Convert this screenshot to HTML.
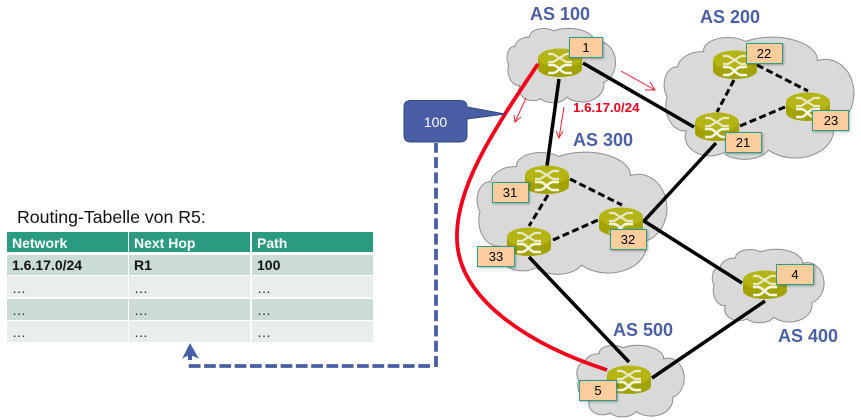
<!DOCTYPE html>
<html><head><meta charset="utf-8"><style>
html,body{margin:0;padding:0;background:#fff;width:861px;height:420px;overflow:hidden}
svg{display:block}
text{font-family:"Liberation Sans",sans-serif}
.as{font-size:18px;font-weight:bold;fill:#4a5fa5}
.lb{font-size:13px;fill:#000;text-anchor:middle}
.h{font-size:14px;font-weight:bold;fill:#fff}
.b{font-size:14px;font-weight:bold;fill:#111}
.d{font-size:14px;fill:#222}
.k{stroke:#000;stroke-width:3.500;fill:none}
.ds{stroke:#000;stroke-width:3;fill:none;stroke-dasharray:7 3.500}
.ra{stroke:#f0203a;stroke-width:1;fill:none}
</style></head><body>
<svg width="861" height="420" viewBox="0 0 861 420" xmlns="http://www.w3.org/2000/svg">
<defs>
<path id="cl" d="M6 25 A14 14 0 0 1 21 13 A14 10 0 0 1 45 5 A26 18 0 0 1 86 20 A16 26 0 0 1 95 71 A22 22 0 0 1 58 90 A15 12 0 0 1 32 92 A14 15 0 0 1 11 75 A11 20 0 0 1 0 48 A7 14 0 0 1 6 25 Z" fill="#d9d9d9" stroke="#8f8f8f" stroke-width="1" vector-effect="non-scaling-stroke"/>
<g id="rt">
<path d="M0 10 V21 A22 8 0 0 0 44 21 V10 Z" fill="#a3a300"/>
<ellipse cx="22" cy="10" rx="22" ry="9.500" fill="#b5b512"/>
<path d="M10 6 H15 L28 14 H34 M10 14 H15 L28 6 H34" stroke="#e9e9c8" stroke-width="2.200" fill="none"/>
<path d="M10 17 H15 C20 17 23 25 28 25 H34 M10 25 H15 C20 25 23 17 28 17 H34" stroke="#f6f6ea" stroke-width="2.400" fill="none"/>
</g>
</defs>

<!-- clouds -->
<use href="#cl" transform="translate(508.700 27) scale(1 .78)"/>
<use href="#cl" transform="translate(667 35) scale(1.75 1.28)"/>
<use href="#cl" transform="translate(480 150) scale(1.75 1.28)"/>
<use href="#cl" transform="translate(714 248) scale(1.03 .77)"/>
<use href="#cl" transform="translate(578.500 344) scale(.99 .75)"/>

<!-- links -->
<path class="k" d="M583 63 L694 127"/>
<path class="k" d="M559 79 L547 166"/>
<path class="k" d="M716 143 L644 221 L742 283"/>
<path class="k" d="M529 257 L629 362"/>
<path class="k" d="M652 378 L765 301"/>
<path class="ds" d="M757 65 L808 91 M734 80 L717 112 M740 126 L785 107"/>
<path class="ds" d="M570 179 L622 205 M548 195 L529 226 M553 240 L598 220"/>

<!-- routers -->
<use href="#rt" x="538" y="48"/>
<use href="#rt" x="713" y="50"/>
<use href="#rt" x="786" y="92"/>
<use href="#rt" x="695" y="112"/>
<use href="#rt" x="525" y="165"/>
<use href="#rt" x="599" y="207"/>
<use href="#rt" x="507" y="227"/>
<use href="#rt" x="743" y="270"/>
<use href="#rt" x="607" y="365"/>

<!-- red BGP path -->
<path d="M538 64 C490 135 455 190 457 240 C459 300 530 345 607 370" fill="none" stroke="#f4001c" stroke-width="3.800"/>
<path class="ra" d="M621 71 L655 90 M645 90 L655 90 L650 82"/>
<path class="ra" d="M564 107 L559 138 M556 131 L559 138 L563 131"/>
<path class="ra" d="M526 98 L515 122 M514 115 L515 122 L521 117"/>
<text x="573" y="112" font-size="13.300" font-weight="bold" fill="#f0001e">1.6.17.0/24</text>

<!-- labels -->
<g fill="#fbcd9c" stroke="#2f9c84" stroke-width="1" style="filter:drop-shadow(1px 1px 1px rgba(0,0,0,.3))">
<rect x="569.500" y="37.500" width="33" height="20"/>
<rect x="746.500" y="43.500" width="36" height="20"/>
<rect x="812.500" y="110.500" width="36" height="20"/>
<rect x="725.500" y="132.500" width="36" height="20"/>
<rect x="492.500" y="182.500" width="36" height="20"/>
<rect x="610.500" y="229.500" width="36" height="20"/>
<rect x="477.500" y="246.500" width="37" height="20"/>
<rect x="776.500" y="264.500" width="37" height="20"/>
<rect x="579.500" y="380.500" width="37" height="20"/>
</g>
<text class="lb" x="586" y="52">1</text>
<text class="lb" x="764" y="58">22</text>
<text class="lb" x="831" y="125">23</text>
<text class="lb" x="743" y="147">21</text>
<text class="lb" x="510" y="197">31</text>
<text class="lb" x="628" y="244">32</text>
<text class="lb" x="496" y="261">33</text>
<text class="lb" x="795" y="279">4</text>
<text class="lb" x="598" y="395">5</text>

<text class="as" x="530" y="20">AS 100</text>
<text class="as" x="700" y="23">AS 200</text>
<text class="as" x="573" y="146">AS 300</text>
<text class="as" x="778" y="342">AS 400</text>
<text class="as" x="613" y="336">AS 500</text>

<!-- callout -->
<path d="M411 100.500 H460 Q467 100.500 467 107 L505 114 L467 119 V135 Q467 142 460 142 H411 Q404 142 404 135 V107 Q404 100.500 411 100.500 Z" fill="#4a5ea5" stroke="#2f4a85" stroke-width="1"/>
<text x="435.500" y="127" font-size="14" fill="#fff" text-anchor="middle">100</text>

<!-- dashed blue -->
<path d="M436 367 V143" fill="none" stroke="#4a5ea5" stroke-width="3.800" stroke-dasharray="11 4.300"/>
<path d="M430 366 H188" fill="none" stroke="#4a5ea5" stroke-width="3.800" stroke-dasharray="11.700 3.600"/>
<path d="M190 343 L199 359 Q194 356 192 356 V360 H188 V356 Q186 356 182 359 Z" fill="#4a5ea5"/>

<!-- table -->
<text x="17" y="223" font-size="17.700" fill="#111">Routing-Tabelle von R5:</text>
<g>
<rect x="7" y="232" width="121" height="20" fill="#2a9a80"/><rect x="129" y="232" width="121" height="20" fill="#2a9a80"/><rect x="252" y="232" width="121" height="20" fill="#2a9a80"/>
<rect x="7" y="255" width="121" height="20" fill="#cbdcd6"/><rect x="129" y="255" width="121" height="20" fill="#cbdcd6"/><rect x="252" y="255" width="121" height="20" fill="#cbdcd6"/>
<rect x="7" y="276" width="121" height="21" fill="#e8eeec"/><rect x="129" y="276" width="121" height="21" fill="#e8eeec"/><rect x="252" y="276" width="121" height="21" fill="#e8eeec"/>
<rect x="7" y="299" width="121" height="21" fill="#cbdcd6"/><rect x="129" y="299" width="121" height="21" fill="#cbdcd6"/><rect x="252" y="299" width="121" height="21" fill="#cbdcd6"/>
<rect x="7" y="321" width="121" height="21" fill="#e8eeec"/><rect x="129" y="321" width="121" height="21" fill="#e8eeec"/><rect x="252" y="321" width="121" height="21" fill="#e8eeec"/>
</g>
<text class="h" x="12" y="248">Network</text><text class="h" x="134" y="248">Next Hop</text><text class="h" x="257" y="248">Path</text>
<text class="b" x="12" y="270">1.6.17.0/24</text><text class="b" x="134" y="270">R1</text><text class="b" x="257" y="270">100</text>
<text class="d" x="12" y="293">…</text><text class="d" x="134" y="293">…</text><text class="d" x="257" y="293">…</text>
<text class="d" x="12" y="315">…</text><text class="d" x="134" y="315">…</text><text class="d" x="257" y="315">…</text>
<text class="d" x="12" y="337">…</text><text class="d" x="134" y="337">…</text><text class="d" x="257" y="337">…</text>
</svg>
</body></html>
